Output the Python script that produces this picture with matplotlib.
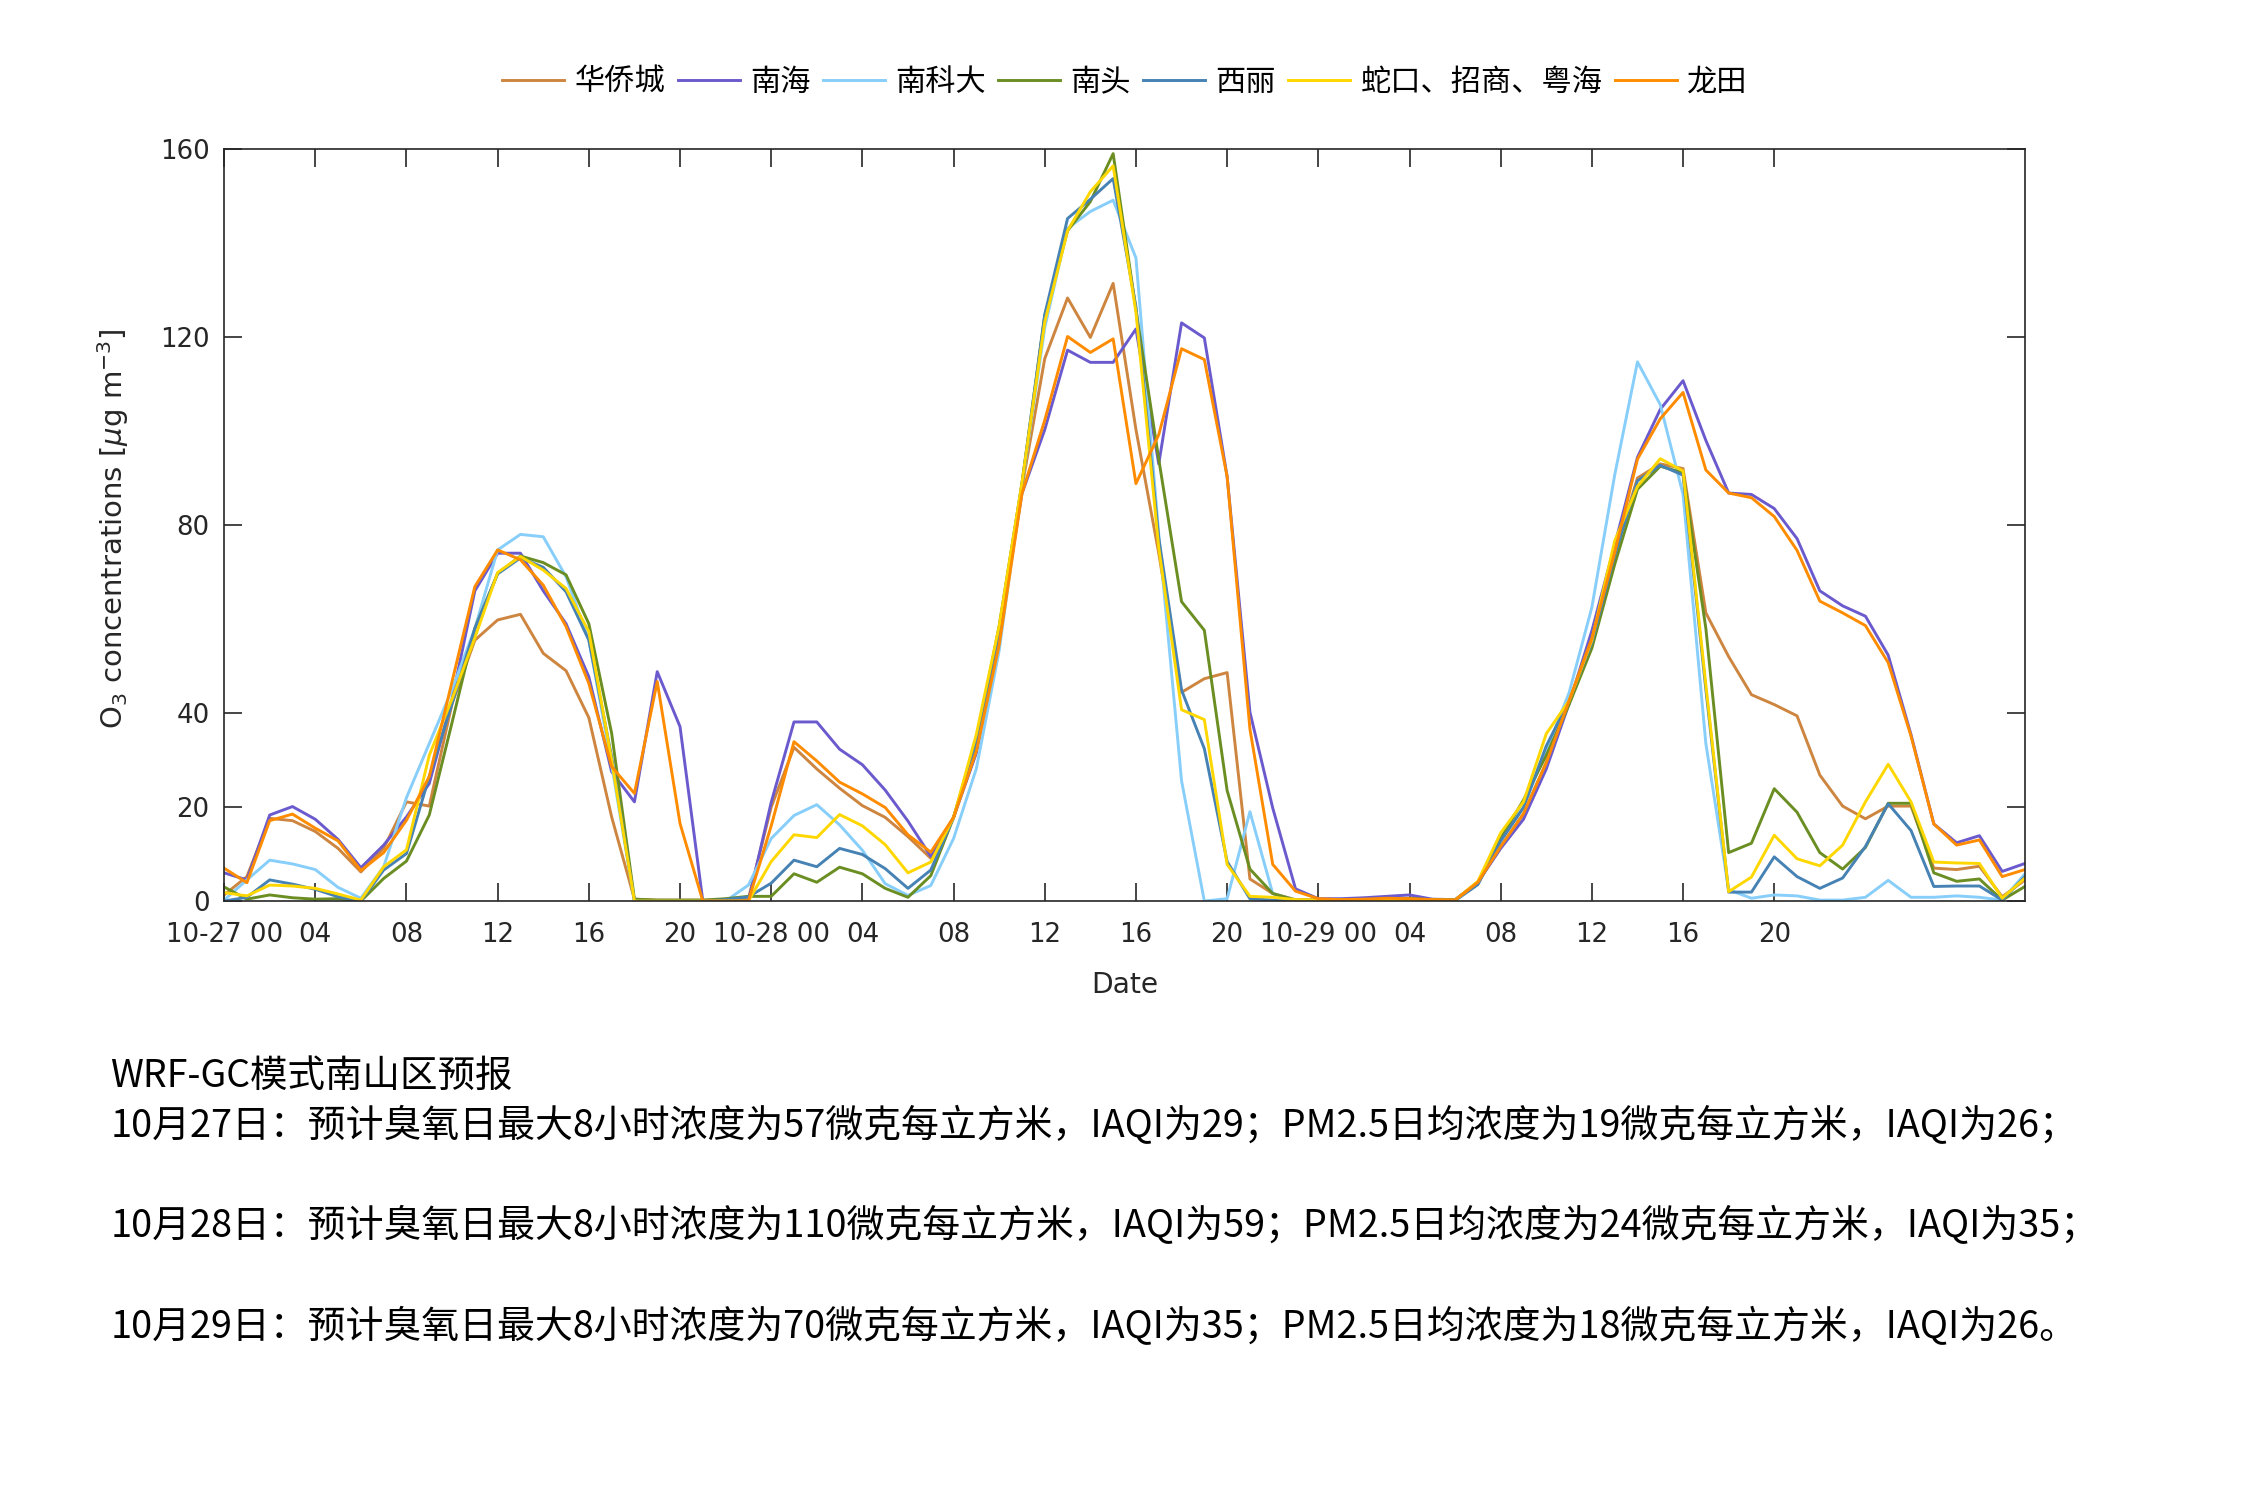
import matplotlib
matplotlib.use("Agg")
import matplotlib.pyplot as plt

plt.rcParams['font.family'] = ['Noto Sans CJK SC', 'DejaVu Sans']
plt.rcParams['axes.unicode_minus'] = False

# 逐小时预报, 10-27 00时起
hours = list(range(80))

stations = ["华侨城", "南海", "南科大", "南头", "西丽", "蛇口、招商、粤海", "龙田"]
colors = ["#CD853F", "#6A5ACD", "#87CEFA", "#6B8E23", "#4682B4", "#FFD700", "#FF8C00"]

huaqiaocheng = [1.3, 5.2, 17.6, 17.1, 14.8, 11.2, 6.2, 11.2, 21.1, 20.2,
                42, 55.5, 59.8, 61, 52.7, 49, 39, 17.9, 0.4, 0.2,
                0.2, 0.2, 0.2, 0.5, 20, 32.7, 28.1, 24, 20.3, 17.8,
                13.7, 9.1, 17.8, 34, 56, 88, 115.4, 128.3, 119.9, 131.4,
                100.3, 74, 44.4, 47.3, 48.6, 4.7, 1.6, 0.3, 0.2, 0.2,
                0.3, 0.5, 0.6, 0.3, 0.2, 4, 11.5, 18.5, 29.5, 42.5,
                55.5, 74, 90, 93, 92, 61.3, 52, 43.9, 41.8, 39.4,
                26.8, 20.2, 17.5, 20.2, 20.2, 7, 6.7, 7.4, 0.9, 4.5]
nanhai = [6.0, 4.5, 18.3, 20.1, 17.4, 13.1, 7.1, 11.9, 17.9, 25,
          43, 66, 74, 74, 66, 59, 47.7, 27.5, 21.1, 48.8,
          37.1, 0, 0, 0, 21, 38.1, 38.1, 32.3, 29, 23.6,
          17, 9.5, 17.8, 31.5, 56.4, 86.7, 100.3, 117.2, 114.6, 114.6,
          121.7, 93, 123, 119.8, 90.3, 40.2, 19.8, 2.6, 0.5, 0.5,
          0.7, 1, 1.3, 0.4, 0.3, 4, 11.2, 17.4, 28.1, 42,
          57.5, 75.7, 94.4, 104.6, 110.7, 98, 86.8, 86.5, 83.5, 77.1,
          66, 62.8, 60.6, 52.3, 35.4, 16.4, 12.4, 13.9, 6.3, 8]
nankeda = [0.2, 4.5, 8.7, 7.9, 6.7, 2.9, 0.6, 7.3, 22, 33.5,
           45, 58, 74.7, 78, 77.5, 69, 55.5, 29, 0, 0,
           0, 0, 0, 3.4, 13.3, 18.2, 20.5, 16.2, 10.8, 3.7,
           1.2, 3.3, 13.3, 28.2, 53.3, 88.5, 122, 143.1, 146.7, 149.1,
           136.8, 78, 25.6, 0, 0.5, 19, 1.6, 0.2, 0, 0,
           0, 0, 0, 0, 0, 4, 12.5, 20, 32, 44.3,
           62.5, 90.6, 114.7, 105.6, 86.5, 33.5, 2.4, 0.6, 1.3, 1.1,
           0.2, 0.2, 0.8, 4.4, 0.8, 0.8, 1.1, 0.8, 0.2, 5.8]
nantou = [3.0, 0.4, 1.3, 0.7, 0.4, 0.5, 0, 4.8, 8.5, 18.3,
          38, 58, 69.7, 73.4, 72, 69.4, 59, 35.7, 0.4, 0.2,
          0.2, 0.2, 0.5, 1, 1, 5.8, 4.0, 7.2, 5.8, 2.7,
          0.8, 5.4, 17.8, 34, 58.5, 88.8, 124.5, 142.6, 148.8, 159,
          125.8, 94, 63.7, 57.6, 23.5, 6.8, 1.6, 0.2, 0.2, 0.2,
          0.2, 0.3, 0.5, 0.3, 0.2, 4, 13.3, 21.5, 31, 41.8,
          53.8, 71.6, 87.6, 92.5, 91.1, 58, 10.3, 12.3, 23.9, 18.9,
          10.3, 6.8, 11.4, 20.8, 20.8, 6, 4.2, 4.7, 0.2, 3.1]
xili = [0, 0.8, 4.5, 3.6, 2.5, 0.9, 0, 6.6, 10.1, 26.5,
        42, 58, 69.6, 73, 71, 65.8, 55.5, 30.7, 0, 0,
        0, 0, 0.3, 0.9, 3.8, 8.7, 7.3, 11.2, 9.9, 6.9,
        2.7, 6.6, 17.8, 33.9, 57.4, 88.8, 124.8, 145.2, 149.3, 153.7,
        126.4, 77.3, 44.9, 32.4, 8.4, 0.5, 0.2, 0.1, 0.1, 0.1,
        0.1, 0.1, 0.1, 0.1, 0.1, 3.5, 12.8, 19.9, 33, 42.6,
        55, 73.5, 89.4, 92.7, 90.6, 45, 1.9, 1.9, 9.4, 5.2,
        2.7, 4.9, 11.6, 20.7, 15, 3.1, 3.2, 3.2, 0.2, 5.2]
shekou = [1.8, 1.1, 3.4, 3.2, 2.7, 1.5, 0.2, 7.3, 10.9, 31,
          43, 56, 69.9, 73.3, 70.4, 66.5, 57.3, 30, 0, 0,
          0, 0, 0, 0, 8.4, 14.1, 13.5, 18.4, 16, 12,
          6.0, 8.3, 17.8, 35.5, 58.5, 89, 123.2, 142.6, 150.9, 156.4,
          125.3, 75.2, 40.7, 38.6, 7.8, 1, 0.8, 0.3, 0.2, 0.2,
          0.2, 0.2, 0.2, 0.2, 0.2, 4.2, 14.5, 21.1, 35.6, 42.6,
          55.5, 76.6, 88.2, 94.1, 91.5, 46, 2, 5.1, 14, 9,
          7.5, 11.9, 21.1, 29.1, 21.1, 8.3, 8.1, 8, 0.6, 4.9]
longtian = [7.0, 3.9, 17.1, 18.5, 15.5, 12.8, 6.5, 10.3, 17.2, 26.5,
            46.7, 66.9, 74.7, 72.6, 67.2, 58.4, 46.3, 28.6, 22.9, 46.7,
            16.5, 0, 0, 0, 16, 33.9, 29.8, 25.3, 22.8, 19.9,
            14.1, 10.4, 17.8, 31.9, 54.5, 86.7, 102.3, 120.1, 116.7, 119.6,
            88.8, 99.2, 117.5, 115.2, 90.3, 36.6, 7.8, 2.1, 0.5, 0.3,
            0.4, 0.6, 0.5, 0.3, 0.2, 4, 11.6, 18.6, 29.4, 42.6,
            55.9, 74.1, 94, 102.6, 108.2, 91.7, 86.8, 85.8, 81.8, 74.6,
            63.8, 61.3, 58.6, 50.7, 35.1, 16.4, 11.9, 13, 5.2, 6.7]

series = [huaqiaocheng, nanhai, nankeda, nantou, xili, shekou, longtian]

tick_hours = [0, 4, 8, 12, 16, 20, 24, 28, 32, 36, 40, 44, 48, 52, 56, 60, 64, 68]
tick_labels = ["10-27 00", "04", "08", "12", "16", "20",
               "10-28 00", "04", "08", "12", "16", "20",
               "10-29 00", "04", "08", "12", "16", "20"]
y_ticks = [0, 20, 40, 80, 120, 160]

forecast_title = "WRF-GC模式南山区预报"
forecast_lines = [
    "10月27日：预计臭氧日最大8小时浓度为57微克每立方米，IAQI为29；PM2.5日均浓度为19微克每立方米，IAQI为26；",
    "10月28日：预计臭氧日最大8小时浓度为110微克每立方米，IAQI为59；PM2.5日均浓度为24微克每立方米，IAQI为35；",
    "10月29日：预计臭氧日最大8小时浓度为70微克每立方米，IAQI为35；PM2.5日均浓度为18微克每立方米，IAQI为26。",
]

latin = ['DejaVu Sans', 'Noto Sans CJK SC']

fig = plt.figure(figsize=(15, 10), dpi=150)
ax = fig.add_axes([0.0996, 0.3993, 0.8004, 0.5014])

for name, vals, c in zip(stations, series, colors):
    ax.plot(hours, vals, color=c, lw=1.4, label=name)

ax.set_xlim(0, 79)
ax.set_ylim(0, 160)
ax.set_xticks(tick_hours)
ax.set_xticklabels(tick_labels)
ax.set_yticks(y_ticks)
ax.tick_params(direction="in", length=8.5, width=0.8, top=True, right=True,
               labelsize=12.5, colors="#262626")
ax.tick_params(axis="x", pad=10)
ax.tick_params(axis="y", pad=7)
for lab in ax.get_xticklabels() + ax.get_yticklabels():
    lab.set_family(latin)
for s in ax.spines.values():
    s.set_linewidth(0.8)
    s.set_color("#262626")

ax.set_xlabel("Date", fontsize=13.5, color="#262626", family=latin, va="top")
ax.xaxis.set_label_coords(0.5, -0.093)
ax.set_ylabel(r"O$_3$ concentrations [$\mu$g m$^{-3}$]", fontsize=14,
              color="#262626", family=latin, va="center")
ax.yaxis.set_label_coords(-0.0615, 0.495)

fig.legend(loc="center", bbox_to_anchor=(0.5, 0.945), ncol=7, frameon=False,
           fontsize=14.5, handlelength=2.05, columnspacing=0.4, handletextpad=0.35)

fig.text(0.049, 0.2827, forecast_title, fontsize=18, va="center")
for y, line in zip([0.2493, 0.182, 0.1153], forecast_lines):
    fig.text(0.049, y, line, fontsize=18.2, va="center")

fig.savefig("out.png", dpi=150)
